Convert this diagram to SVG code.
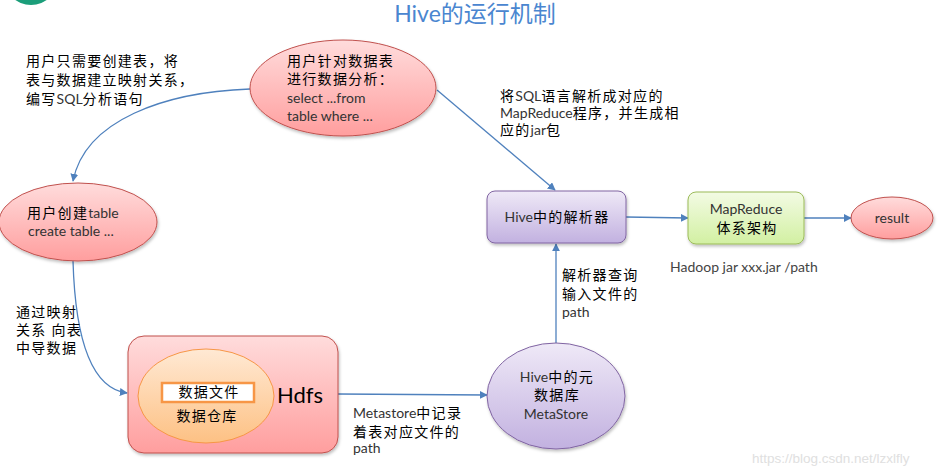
<svg xmlns="http://www.w3.org/2000/svg" width="945" height="476" viewBox="0 0 945 476">
<style>
text{font-family:"Lato","Noto Sans CJK SC",sans-serif;}
.t{font-size:14px;fill:#000;letter-spacing:1.3px;}
.s{font-size:14px;fill:#333;letter-spacing:0;}
.c{text-anchor:middle;}
.con{fill:none;stroke:#4f81bd;stroke-width:1.3;}
</style>
<defs>
<marker id="ah" viewBox="0 0 10 10" refX="9" refY="5" markerWidth="8" markerHeight="8" orient="auto" markerUnits="userSpaceOnUse">
<path d="M0,0 L10,5 L0,10 z" fill="#4f81bd"/>
</marker>
<linearGradient id="gRed" x1="0" y1="0" x2="0" y2="1"><stop offset="0" stop-color="#ffdcdc"/><stop offset="1" stop-color="#ff9e9e"/></linearGradient>
<linearGradient id="gPur" x1="0" y1="0" x2="0" y2="1"><stop offset="0" stop-color="#efe9f7"/><stop offset="1" stop-color="#c2b1e0"/></linearGradient>
<linearGradient id="gGrn" x1="0" y1="0" x2="0" y2="1"><stop offset="0" stop-color="#f3fbe4"/><stop offset="1" stop-color="#d2f0a2"/></linearGradient>
<linearGradient id="gOrg" x1="0" y1="0" x2="0" y2="1"><stop offset="0" stop-color="#ffe9d4"/><stop offset="1" stop-color="#fdc184"/></linearGradient>
<filter id="sh" x="-10%" y="-10%" width="125%" height="130%"><feDropShadow dx="1" dy="2" stdDeviation="1.5" flood-color="#000" flood-opacity="0.25"/></filter>
</defs>

<circle cx="31" cy="-22" r="27" fill="#1b9e7a"/>
<text x="475" y="22" class="c" style="font-size:23px;fill:#4a86d0">Hive的运行机制</text>

<g id="connectors">
<path class="con" d="M250,89 C165,92 85,120 73,181" marker-end="url(#ah)"/>
<path class="con" d="M73,261 C75,330 88,388 127,393" marker-end="url(#ah)"/>
<path class="con" d="M338,394 L487,395" marker-end="url(#ah)"/>
<path class="con" d="M556,343 L556,244" marker-end="url(#ah)"/>
<path class="con" d="M437,90 L555,190" marker-end="url(#ah)"/>
<path class="con" d="M626,217 L688,218" marker-end="url(#ah)"/>
<path class="con" d="M804,218 L851,218" marker-end="url(#ah)"/>
</g>

<g id="note-left">
<text class="t" x="26" y="66">用户只需要创建表，将</text>
<text class="t" x="26" y="85">表与数据建立映射关系，</text>
<text class="t" x="26" y="104">编写<tspan class="s">SQL</tspan>分析语句</text>
</g>

<g id="node-query">
<ellipse cx="343" cy="88" rx="93" ry="48" fill="url(#gRed)" stroke="#c0504d" filter="url(#sh)"/>
<text class="t" x="287" y="66">用户针对数据表</text>
<text class="t" x="287" y="84">进行数据分析：</text>
<text class="s" x="287" y="103">select ...from</text>
<text class="s" x="287" y="121">table where ...</text>
</g>

<g id="node-create">
<ellipse cx="78" cy="222" rx="79" ry="39" fill="url(#gRed)" stroke="#c0504d" filter="url(#sh)"/>
<text class="t" x="27" y="218">用户创建<tspan class="s">table</tspan></text>
<text class="s" x="28" y="236">create table ...</text>
</g>

<g id="note-map">
<text class="t" x="16" y="317">通过映射</text>
<text class="t" x="16" y="335">关系 向表</text>
<text class="t" x="16" y="353">中导数据</text>
</g>

<g id="node-hdfs">
<rect x="128" y="336" width="210" height="117" rx="16" fill="url(#gRed)" stroke="#c0504d" filter="url(#sh)"/>
<ellipse cx="206" cy="396" rx="68" ry="47" fill="url(#gOrg)" stroke="#f79646"/>
<rect x="162" y="383" width="92" height="19" fill="#fff" stroke="#f79646" stroke-width="2.5"/>
<text class="t c" x="209" y="397">数据文件</text>
<text class="t c" x="207" y="421">数据仓库</text>
<text x="277" y="403" style="font-size:22px;fill:#000">Hdfs</text>
</g>

<g id="note-metastore">
<text class="s" x="353" y="418">Metastore<tspan class="t">中记录</tspan></text>
<text class="t" x="353" y="437">着表对应文件的</text>
<text class="s" x="353" y="453">path</text>
</g>

<g id="node-metastore">
<ellipse cx="556" cy="396" rx="69" ry="53" fill="url(#gPur)" stroke="#8064a2" filter="url(#sh)"/>
<text class="t c" x="557" y="382"><tspan class="s">Hive</tspan>中的元</text>
<text class="t c" x="557" y="400">数据库</text>
<text class="s c" x="556" y="419">MetaStore</text>
</g>

<g id="note-parser">
<text class="t" x="562" y="280">解析器查询</text>
<text class="t" x="562" y="299">输入文件的</text>
<text class="s" x="562" y="317">path</text>
</g>

<g id="note-sql">
<text class="t" x="500" y="101">将<tspan class="s">SQL</tspan>语言解析成对应的</text>
<text class="t" x="500" y="118"><tspan class="s">MapReduce</tspan>程序，并生成相</text>
<text class="t" x="500" y="135">应的<tspan class="s">jar</tspan>包</text>
</g>

<g id="node-parser">
<rect x="487" y="191" width="139" height="52" rx="8" fill="url(#gPur)" stroke="#8064a2" filter="url(#sh)"/>
<text class="t c" x="557" y="222"><tspan class="s">Hive</tspan>中的解析器</text>
</g>

<g id="node-mapreduce">
<rect x="688" y="192" width="116" height="52" rx="8" fill="url(#gGrn)" stroke="#9bbb59" filter="url(#sh)"/>
<text class="s c" x="746" y="214">MapReduce</text>
<text class="t c" x="747" y="233">体系架构</text>
</g>

<g id="node-result">
<ellipse cx="892" cy="218" rx="41" ry="21" fill="url(#gRed)" stroke="#c0504d" filter="url(#sh)"/>
<text class="s c" x="892" y="223">result</text>
</g>

<text class="s" x="670" y="272" style="fill:#444">Hadoop jar xxx.jar /path</text>
<text x="752" y="463" style="font-family:'Liberation Sans',sans-serif;font-size:13.5px;fill:#e0e0e0">https://blog.csdn.net/lzxlfly</text>
</svg>
